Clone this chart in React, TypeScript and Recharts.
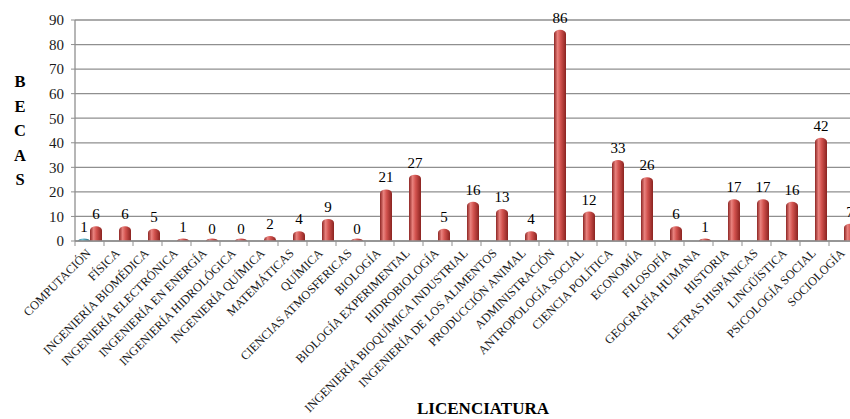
import React from "react";
import { BarChart, Bar, XAxis, YAxis, CartesianGrid, LabelList, Label } from "recharts";

// Licenciaturas (categories along the x axis)
const categories = [
  "COMPUTACIÓN",
  "FÍSICA",
  "INGENIERÍA BIOMÉDICA",
  "INGENIERÍA ELECTRÓNICA",
  "INGENIERÍA EN ENERGÍA",
  "INGENIERÍA HIDROLÓGICA",
  "INGENIERÍA QUÍMICA",
  "MATEMÁTICAS",
  "QUÍMICA",
  "CIENCIAS ATMOSFERICAS",
  "BIOLOGÍA",
  "BIOLOGÍA EXPERIMENTAL",
  "HIDROBIOLOGÍA",
  "INGENIERÍA BIOQUÍMICA INDUSTRIAL",
  "INGENIERÍA DE LOS ALIMENTOS",
  "PRODUCCIÓN ANIMAL",
  "ADMINISTRACIÓN",
  "ANTROPOLOGÍA SOCIAL",
  "CIENCIA POLÍTICA",
  "ECONOMÍA",
  "FILOSOFÍA",
  "GEOGRAFÍA HUMANA",
  "HISTORIA",
  "LETRAS HISPÁNICAS",
  "LINGÜÍSTICA",
  "PSICOLOGÍA SOCIAL",
  "SOCIOLOGÍA",
];

// Secondary series: only present for the first licenciatura
const firstSeries: (number | null)[] = [
  1, null, null, null, null, null, null, null, null, null, null, null, null, null,
  null, null, null, null, null, null, null, null, null, null, null, null, null,
];

// Becas per licenciatura
const becas: number[] = [
  6, 6, 5, 1, 0, 0, 2, 4, 9, 0, 21, 27, 5, 16, 13, 4, 86, 12, 33, 26, 6, 1, 17, 17, 16, 42, 7,
];

const yTicks = [0, 10, 20, 30, 40, 50, 60, 70, 80, 90];
const yLetters = ["B", "E", "C", "A", "S"];
const xTitle = "LICENCIATURA";

const data = categories.map((name, i) => ({
  name,
  serieA: firstSeries[i],
  becas: becas[i],
}));

const SERIF = "Liberation Serif, DejaVu Serif, serif";
const GRID = "#8f8f8f";

// Cylinder-like bar with rounded top; flat values still show a thin disc
const CylinderBar = (props: any) => {
  const { x, y, width, height, fill, value } = props;
  if (value === null || value === undefined) return null;
  const base = y + height;
  const h = Math.max(height, 2.5);
  const top = base - h;
  const ry = Math.min(4, h);
  const d = `M${x},${base} L${x},${top + ry} A${width / 2},${ry} 0 0 1 ${x + width},${top + ry} L${x + width},${base} Z`;
  return <path d={d} fill={fill} />;
};

const CategoryTick = (props: any) => {
  const { x, payload, index } = props;
  const half = 14.5;
  const axisY = 241;
  const tx = x + 2;
  const ty = axisY + 13;
  return (
    <g>
      <line x1={x - half} y1={axisY} x2={x - half} y2={axisY + 5} stroke={GRID} strokeWidth={1} />
      {index === categories.length - 1 && (
        <line x1={x + half} y1={axisY} x2={x + half} y2={axisY + 5} stroke={GRID} strokeWidth={1} />
      )}
      <text
        x={tx}
        y={ty}
        transform={`rotate(-45, ${tx}, ${ty})`}
        textAnchor="end"
        style={{ fontFamily: SERIF }}
        fontSize={12.3}
        fill="#1a1a1a"
      >
        {payload.value}
      </text>
    </g>
  );
};

const valueLabel = (props: any) => {
  const { x, y, width, value } = props;
  if (value === null || value === undefined) return null;
  return (
    <text
      x={x + width / 2}
      y={y - 7}
      textAnchor="middle"
      style={{ fontFamily: SERIF }}
      fontSize={15}
      fill="#000"
    >
      {value}
    </text>
  );
};

export default function App() {
  return (
    <div
      style={{
        position: "fixed",
        left: 0,
        top: 0,
        width: 850,
        height: 419,
        overflow: "hidden",
        background: "#fff",
        fontFamily: SERIF,
      }}
    >
      <BarChart
        width={872}
        height={419}
        data={data}
        margin={{ top: 20, right: 14, bottom: 0, left: 0 }}
        barSize={12}
        barGap={0}
      >
        <defs>
          <linearGradient id="redCyl" x1="0" y1="0" x2="1" y2="0">
            <stop offset="0%" stopColor="#8e2624" />
            <stop offset="30%" stopColor="#e9827e" />
            <stop offset="55%" stopColor="#d2524e" />
            <stop offset="100%" stopColor="#8a2320" />
          </linearGradient>
          <linearGradient id="tealCyl" x1="0" y1="0" x2="1" y2="0">
            <stop offset="0%" stopColor="#23697c" />
            <stop offset="35%" stopColor="#6fc3da" />
            <stop offset="100%" stopColor="#1f6173" />
          </linearGradient>
        </defs>
        <CartesianGrid vertical={false} stroke={GRID} strokeWidth={1.3} />
        <XAxis
          dataKey="name"
          interval={0}
          height={178}
          tickLine={false}
          tickSize={0}
          axisLine={{ stroke: GRID, strokeWidth: 1.3 }}
          tick={<CategoryTick />}
        >
          <Label
            content={() => (
              <text
                x={483}
                y={414}
                textAnchor="middle"
                style={{ fontFamily: SERIF }}
                fontWeight="bold"
                fontSize={17}
                fill="#000"
              >
                {xTitle}
              </text>
            )}
          />
        </XAxis>
        <YAxis
          width={75}
          domain={[0, 90]}
          ticks={yTicks}
          interval={0}
          tickSize={4}
          tickMargin={7}
          axisLine={{ stroke: GRID, strokeWidth: 1.3 }}
          tickLine={{ stroke: GRID }}
          tick={{ fontSize: 15, fill: "#1a1a1a", style: { fontFamily: SERIF } }}
        >
          <Label
            content={() => (
              <g>
                {yLetters.map((l, i) => (
                  <text
                    key={i}
                    x={20}
                    y={87 + i * 24.6}
                    textAnchor="middle"
                    style={{ fontFamily: SERIF }}
                    fontWeight="bold"
                    fontSize={16.5}
                    fill="#000"
                  >
                    {l}
                  </text>
                ))}
              </g>
            )}
          />
        </YAxis>
        <Bar dataKey="serieA" fill="url(#tealCyl)" shape={<CylinderBar />} isAnimationActive={false}>
          <LabelList dataKey="serieA" content={valueLabel} />
        </Bar>
        <Bar dataKey="becas" fill="url(#redCyl)" shape={<CylinderBar />} isAnimationActive={false}>
          <LabelList dataKey="becas" content={valueLabel} />
        </Bar>
      </BarChart>
    </div>
  );
}
